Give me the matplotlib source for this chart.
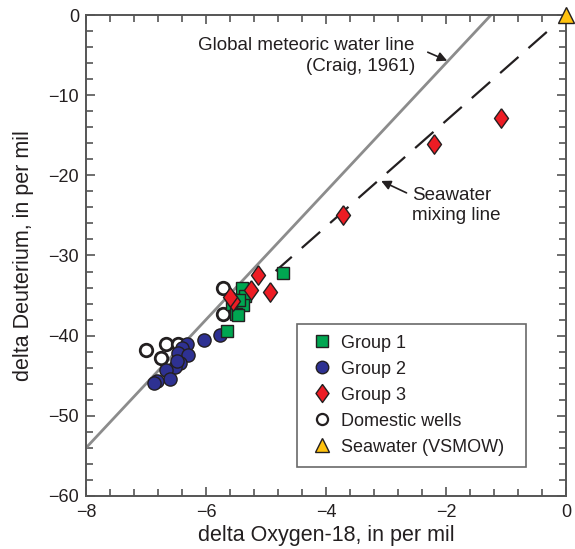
import matplotlib
matplotlib.use('Agg')
from matplotlib import pyplot as plt
from matplotlib.ticker import MultipleLocator
import numpy as np

plt.rcParams['font.family'] = ['Liberation Sans', 'DejaVu Sans']

# group 1 (green squares)
g1_o18 = [-4.71, -5.40, -5.35, -5.57, -5.39, -5.50, -5.47, -5.65, -5.45]
g1_dd = [-32.2, -34.1, -35.1, -36.0, -36.2, -37.3, -37.4, -39.4, -35.6]

# group 2 (blue circles)
g2_o18 = [-5.77, -6.03, -6.32, -6.40, -6.46, -6.30, -6.43, -6.52, -6.67, -6.60, -6.82, -6.86, -6.48]
g2_dd = [-39.9, -40.6, -41.1, -41.6, -42.1, -42.4, -43.4, -43.9, -44.3, -45.4, -45.7, -45.9, -43.2]

# group 3 (red diamonds)
g3_o18 = [-1.08, -2.20, -3.72, -5.13, -5.25, -4.93, -5.55, -5.60]
g3_dd = [-12.85, -16.1, -25.0, -32.4, -34.3, -34.6, -35.7, -35.2]

# domestic wells (open circles)
dw_o18 = [-7.00, -6.67, -6.46, -6.75, -5.71, -5.71]
dw_dd = [-41.8, -41.0, -41.0, -42.8, -34.1, -37.3]

# seawater
sw_o18 = [0.0]
sw_dd = [0.0]

# lines
gmwl_x = [-8.0, -1.25]
mix_x = [-0.32, -4.84]
mix_slope = 6.6

edge = '#231f20'
diamond = [(0, 1), (0.72, 0), (0, -1), (-0.72, 0), (0, 1)]

fig = plt.figure(figsize=(5.75, 5.49), dpi=100)
ax = fig.add_axes([86 / 575, 1 - 496 / 549, 480 / 575, 481 / 549])

gx = np.array(gmwl_x)
ax.plot(gx, 8 * gx + 10, color='#8c8c8c', lw=2.0, zorder=2)
mx = np.array(mix_x)
ax.plot(mx, mix_slope * mx, color='#231f20', lw=1.6, dashes=(11, 6), zorder=2)

ax.plot(dw_o18, dw_dd, 'o', ms=9, mfc='white', mec=edge, mew=2.0, ls='none', zorder=3)
ax.plot(g2_o18, g2_dd, 'o', ms=9.5, mfc='#2e3192', mec=edge, mew=1.0, ls='none', zorder=3)
ax.plot(g1_o18, g1_dd, 's', ms=8.5, mfc='#00a651', mec=edge, mew=1.0, ls='none', zorder=4)
ax.plot(g3_o18, g3_dd, marker=diamond, ms=14, mfc='#ed1c24', mec=edge, mew=1.0, ls='none', zorder=5)
ax.plot(sw_o18, sw_dd, '^', ms=12, mfc='#ffc20e', mec=edge, mew=1.0, ls='none', zorder=6, clip_on=False)

ax.annotate('Global meteoric water line\n(Craig, 1961)', xy=(-1.98, -5.7), xytext=(-2.52, -5.1),
            ha='right', va='center', fontsize=13.5, color=edge, linespacing=1.25,
            arrowprops=dict(arrowstyle='-|>', color=edge, lw=1.2, shrinkA=8, shrinkB=0,
                            mutation_scale=14, relpos=(1, 0.75)))
ax.annotate('Seawater\nmixing line', xy=(-3.08, -20.7), xytext=(-2.57, -23.8),
            ha='left', va='center', fontsize=13.5, color=edge, linespacing=1.25,
            arrowprops=dict(arrowstyle='-|>', color=edge, lw=1.2, shrinkA=2, shrinkB=0,
                            mutation_scale=14, relpos=(0, 0.78)))

ax.set_xlim(-8, 0)
ax.set_ylim(-60, 0)
ax.xaxis.set_major_locator(MultipleLocator(2))
ax.xaxis.set_minor_locator(MultipleLocator(0.4))
ax.yaxis.set_major_locator(MultipleLocator(10))
ax.yaxis.set_minor_locator(MultipleLocator(2))
ax.tick_params(which='both', direction='in', top=True, right=True, colors='#555555',
               labelcolor=edge, labelsize=13, width=1.2)
ax.tick_params(which='major', length=6.5)
ax.tick_params(which='minor', length=5)
ax.tick_params(axis='x', which='major', pad=6)
ax.tick_params(axis='y', which='major', pad=5)
for s in ax.spines.values():
    s.set_color('#555555')
    s.set_linewidth(1.4)

ax.set_xlabel('delta Oxygen-18, in per mil', fontsize=15.5, color=edge, labelpad=3)
ax.set_ylabel('delta Deuterium, in per mil', fontsize=15.5, color=edge, labelpad=10)

h1, = ax.plot([], [], 's', ms=8, mfc='#00a651', mec=edge, mew=1.0, ls='none')
h2, = ax.plot([], [], 'o', ms=9, mfc='#2e3192', mec=edge, mew=1.0, ls='none')
h3, = ax.plot([], [], marker=diamond, ms=13, mfc='#ed1c24', mec=edge, mew=1.0, ls='none')
h4, = ax.plot([], [], 'o', ms=8, mfc='white', mec=edge, mew=1.6, ls='none')
h5, = ax.plot([], [], '^', ms=10, mfc='#ffc20e', mec=edge, mew=1.0, ls='none')
leg = ax.legend([h1, h2, h3, h4, h5],
                ['Group 1', 'Group 2', 'Group 3', 'Domestic wells', 'Seawater (VSMOW)'],
                loc='upper left', bbox_to_anchor=(0.44, 0.358, 0.477, 0.0), mode='expand',
                fontsize=13, frameon=True, fancybox=False, handlelength=1.5,
                handletextpad=0.3, labelspacing=0.5, borderpad=0.6, borderaxespad=0)
leg.get_frame().set_edgecolor('#444444')
leg.get_frame().set_linewidth(1.2)
for t in leg.get_texts():
    t.set_color(edge)

fig.savefig('out.png', dpi=100)
